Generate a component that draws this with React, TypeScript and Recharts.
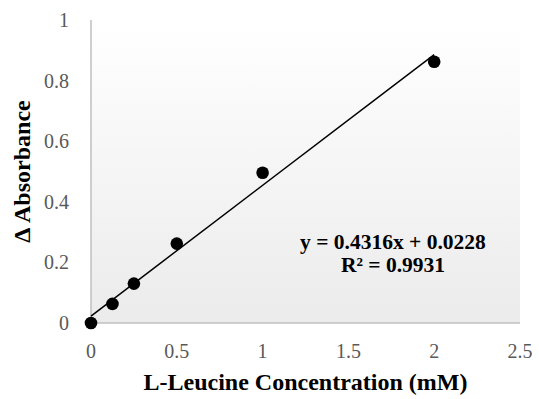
import { ScatterChart, Scatter, XAxis, YAxis, CartesianGrid, Label } from 'recharts'

// measured points (mM vs delta absorbance)
const concentrations = [0, 0.125, 0.25, 0.5, 1, 2]
const absorbance = [0, 0.063, 0.13, 0.262, 0.496, 0.862]

// linear trendline endpoints as shown on the chart
const trendX = [0, 2]
const trendY = [0.0228, 0.886]

const xTicks = [0, 0.5, 1, 1.5, 2, 2.5]
const yTicks = [0, 0.2, 0.4, 0.6, 0.8, 1]

const points = concentrations.map((x, i) => ({ x, y: absorbance[i] }))
const trend = trendX.map((x, i) => ({ x, y: trendY[i] }))

const FONT = '"Liberation Serif", "DejaVu Serif", serif'

const Dot = (props: any) => <circle cx={props.cx} cy={props.cy} r={6.3} fill="#000" />

const XTick = (props: any) => (
  <text x={props.x} y={props.y} dy={21} textAnchor="middle" fill="#595959" fontSize={20} fontFamily={FONT}>
    {props.payload.value}
  </text>
)

const YTick = (props: any) => (
  <text x={props.x} y={props.y} dy={7} textAnchor="end" fill="#595959" fontSize={20} fontFamily={FONT}>
    {props.payload.value}
  </text>
)

export default function App() {
  return (
    <div style={{ position: 'absolute', left: 0, top: 0, width: 539, height: 399, background: '#fff' }}>
      <ScatterChart width={539} height={399} margin={{ top: 20, right: 19, left: 0, bottom: 0 }}>
        <defs>
          <linearGradient id="plotBg" x1="0" y1="0" x2="0" y2="1">
            <stop offset="0%" stopColor="#ffffff" />
            <stop offset="100%" stopColor="#ebebeb" />
          </linearGradient>
        </defs>
        <CartesianGrid horizontal={false} vertical={false} fill="url(#plotBg)" />
        <XAxis
          type="number"
          dataKey="x"
          domain={[0, 2.5]}
          ticks={xTicks}
          height={76}
          tickLine={false}
          axisLine={{ stroke: '#bfbfbf', strokeWidth: 1.5 }}
          tick={<XTick />}
          tickMargin={8}
        >
          <Label
            value="L-Leucine Concentration (mM)"
            position="insideBottom"
            offset={9}
            style={{ fill: '#000', fontSize: 24, fontWeight: 'bold', fontFamily: FONT }}
          />
        </XAxis>
        <YAxis
          type="number"
          dataKey="y"
          domain={[0, 1]}
          ticks={yTicks}
          width={91}
          tickLine={false}
          axisLine={{ stroke: '#bfbfbf', strokeWidth: 1.5 }}
          tick={<YTick />}
          tickMargin={16}
        >
          <Label
            value="Δ Absorbance"
            angle={-90}
            position="insideLeft"
            offset={21}
            style={{ fill: '#000', fontSize: 24, fontWeight: 'bold', fontFamily: FONT, textAnchor: 'middle' }}
          />
        </YAxis>
        <Scatter
          data={trend}
          line={{ stroke: '#000', strokeWidth: 1.5 }}
          shape={() => <g />}
          isAnimationActive={false}
        />
        <Scatter data={points} shape={Dot} isAnimationActive={false} />
        <text x={393} y={249} textAnchor="middle" fontSize={21.5} fontWeight="bold" fontFamily={FONT} fill="#000">
          y = 0.4316x + 0.0228
        </text>
        <text x={393} y={272} textAnchor="middle" fontSize={21.5} fontWeight="bold" fontFamily={FONT} fill="#000">
          R² = 0.9931
        </text>
      </ScatterChart>
    </div>
  )
}
